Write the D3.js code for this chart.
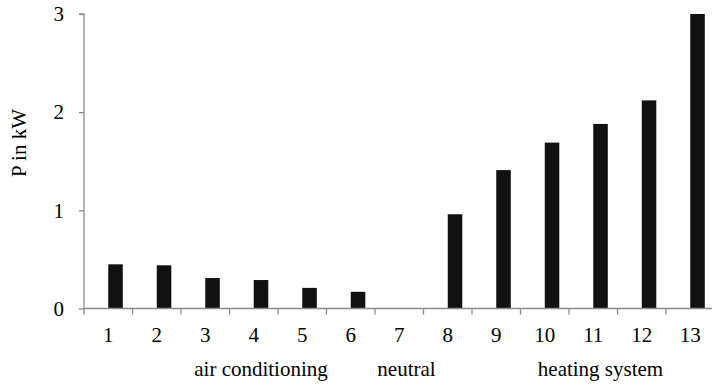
<!DOCTYPE html>
<html>
<head>
<meta charset="utf-8">
<script src="https://cdn.jsdelivr.net/npm/d3@7"></script>
<style>
  html, body { margin: 0; padding: 0; background: #fff; }
  #chart text { font-family: "Liberation Serif", "DejaVu Serif", "Noto Serif", serif !important; }
</style>
</head>
<body>
<svg id="chart" width="712" height="388"></svg>
<script>
// Operating states 1–13 and the electrical power drawn in each
const categories = ["1", "2", "3", "4", "5", "6", "7", "8", "9", "10", "11", "12", "13"];
const powerKW = [0.45, 0.44, 0.31, 0.29, 0.21, 0.17, 0, 0.96, 1.41, 1.69, 1.88, 2.12, 3.0];
const yTicks = [0, 1, 2, 3];
// Mode labels placed under the state they describe
const modeLabels = ["air conditioning", "neutral", "heating system"];
const modeAt = ["4", "7", "11"];

const FS = 21;

const svg = d3.select("#chart");
const plotLeft = 84, plotTop = 14, plotBottom = 308.5;
const step = 48.5;

const x = d3.scaleBand()
  .domain(categories)
  .range([plotLeft, plotLeft + step * categories.length])
  .padding(0);

const y = d3.scaleLinear()
  .domain([0, 3])
  .range([plotBottom, plotTop]);

const bw = x.bandwidth();
const barW = bw * 0.3;
const barX = c => x(c) + bw / 2;

// Bars
svg.append("g")
  .selectAll("rect")
  .data(categories.map((c, i) => ({ c, v: powerKW[i] })))
  .join("rect")
  .attr("x", d => barX(d.c))
  .attr("y", d => y(d.v))
  .attr("width", barW)
  .attr("height", d => y(0) - y(d.v))
  .attr("fill", "#111");

// Y axis
const yAxis = svg.append("g")
  .attr("transform", `translate(${plotLeft},0)`)
  .attr("font-family", null)
  .call(d3.axisLeft(y).tickValues(yTicks).tickFormat(d3.format("d")).tickSize(5).tickPadding(15));
yAxis.attr("font-family", null).attr("font-size", null);
yAxis.select(".domain").attr("stroke", "#8c8c8c").attr("stroke-width", 1.3).attr("d", `M-5,${plotTop}H0V${plotBottom}`);
yAxis.selectAll(".tick line").attr("stroke", "#8c8c8c").attr("stroke-width", 1.3);
yAxis.selectAll(".tick text")
  .attr("font-size", FS)
  .attr("fill", "#000");

// X axis with ticks at category boundaries
const xAxis = svg.append("g")
  .attr("transform", `translate(0,${plotBottom})`);
xAxis.append("line")
  .attr("x1", plotLeft).attr("x2", 712)
  .attr("stroke", "#8c8c8c").attr("stroke-width", 1.3);
xAxis.selectAll("line.b")
  .data(categories)
  .join("line")
  .attr("class", "b")
  .attr("x1", d => x(d)).attr("x2", d => x(d))
  .attr("y1", 0).attr("y2", 6)
  .attr("stroke", "#8c8c8c").attr("stroke-width", 1.3);
xAxis.selectAll("text.t")
  .data(categories)
  .join("text")
  .attr("class", "t")
  .attr("x", d => x(d) + bw / 2)
  .attr("y", 33)
  .attr("text-anchor", "middle")
  .attr("font-size", FS)
  .text(d => d);

// Mode labels
svg.selectAll("text.mode")
  .data(modeLabels)
  .join("text")
  .attr("class", "mode")
  .attr("x", (d, i) => barX(modeAt[i]) + barW / 2)
  .attr("y", 376)
  .attr("text-anchor", "middle")
  .attr("font-size", FS)
  .text(d => d);

// Y axis title
svg.append("text")
  .attr("transform", "translate(26,143) rotate(-90)")
  .attr("text-anchor", "middle")
  .attr("font-size", FS)
  .text("P in kW");
</script>
</body>
</html>
